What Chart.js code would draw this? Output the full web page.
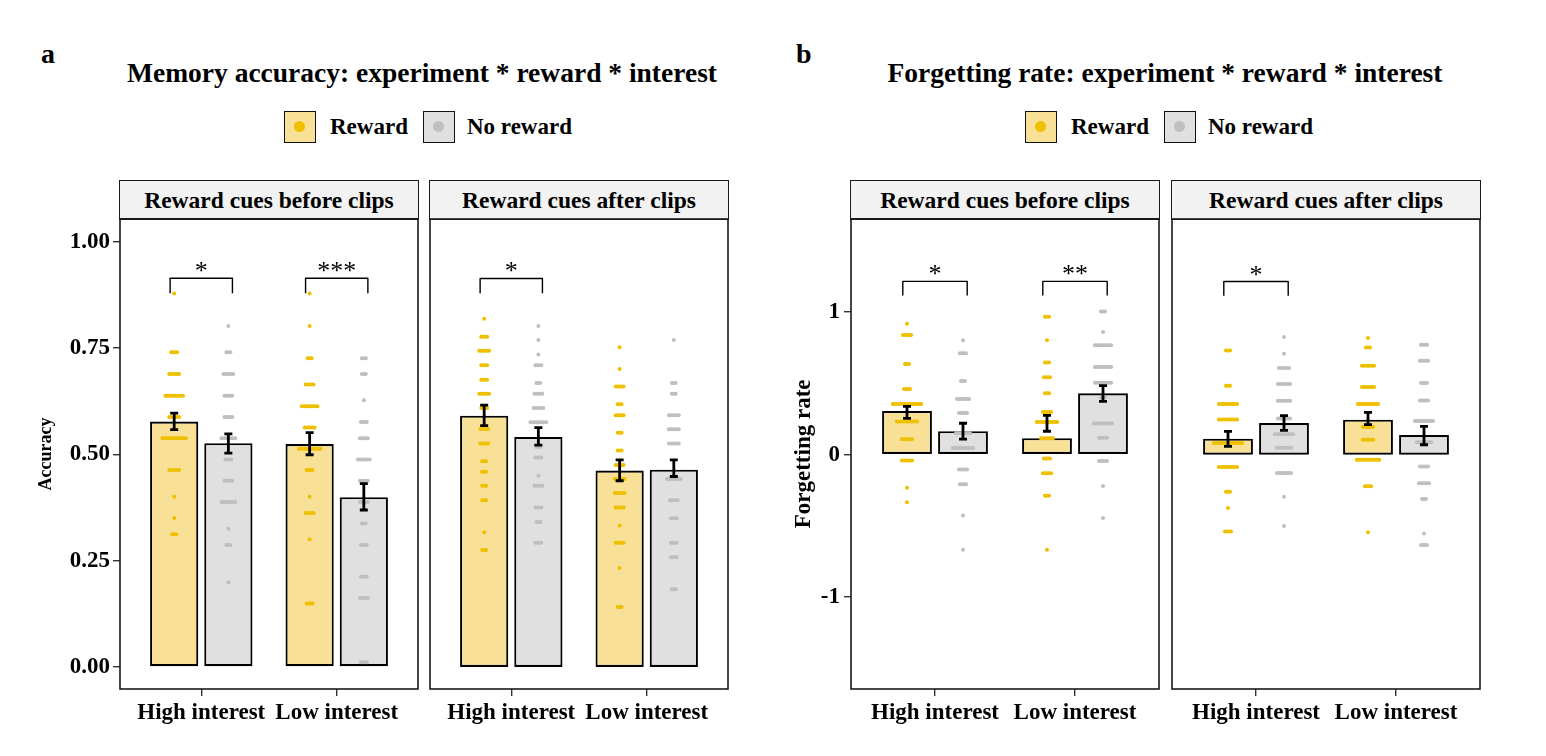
<!DOCTYPE html>
<html>
<head>
<meta charset="utf-8">
<script src="https://cdn.jsdelivr.net/npm/chart.js@4.4.1/dist/chart.umd.min.js"></script>
<style>
  body { margin: 0; width: 1546px; height: 756px; position: relative; overflow: hidden; background: #fff;
         font-family: 'Liberation Serif', 'Times New Roman', serif; font-weight: bold; color: #000; }
  .abs { position: absolute; white-space: nowrap; line-height: 1; }
  .strip { position: absolute; box-sizing: border-box; top: 180px; height: 40px; background: #f2f2f2;
           border: 1.5px solid #1a1a1a; font-size: 23.5px; display: flex; align-items: center; justify-content: center; }
  .key { position: absolute; box-sizing: border-box; width: 32px; height: 32px; top: 111px; border: 1.5px solid #111; }
  .key span { position: absolute; left: 9px; top: 9px; width: 11px; height: 11px; border-radius: 50%; }
  canvas { position: absolute; }
</style>
</head>
<body>
<script>
const FONT = "'Liberation Serif', 'Times New Roman', serif";
Chart.defaults.font.family = FONT;

const categories = ['High interest', 'Low interest'];
const rewardNames = ['Reward', 'No reward'];
const facetNames = ['Reward cues before clips', 'Reward cues after clips'];

const accTicks = [0, 0.25, 0.5, 0.75, 1];
const forgetTicks = [-1, 0, 1];

// Memory accuracy - bar means [High interest, Low interest]
const accBeforeReward = [0.577, 0.524];
const accBeforeNoReward = [0.526, 0.399];
const accAfterReward = [0.591, 0.462];
const accAfterNoReward = [0.541, 0.464];
// error bars [low, high]
const accBeforeRewardErr = [[0.558, 0.597], [0.499, 0.551]];
const accBeforeNoRewardErr = [[0.503, 0.548], [0.369, 0.431]];
const accAfterRewardErr = [[0.568, 0.616], [0.438, 0.487]];
const accAfterNoRewardErr = [[0.522, 0.563], [0.448, 0.487]];
// participants: [value, count] for [High interest, Low interest]
const accBeforeRewardDots = [
  [[0.878,1],[0.740,4],[0.689,6],[0.638,10],[0.588,6],[0.538,13],[0.463,6],[0.400,1],[0.350,1],[0.312,3]],
  [[0.878,1],[0.802,1],[0.726,3],[0.664,5],[0.613,9],[0.563,6],[0.513,12],[0.463,4],[0.400,1],[0.362,5],[0.300,1],[0.149,4]]
];
const accBeforeNoRewardDots = [
  [[0.802,1],[0.740,3],[0.689,6],[0.638,5],[0.588,5],[0.538,8],[0.488,4],[0.438,5],[0.388,8],[0.325,1],[0.287,3],[0.199,1]],
  [[0.726,3],[0.689,3],[0.627,1],[0.576,4],[0.538,5],[0.488,7],[0.438,5],[0.388,5],[0.337,3],[0.287,4],[0.212,4],[0.162,5],[0.011,4]]
];
const accAfterRewardDots = [
  [[0.819,1],[0.777,4],[0.744,6],[0.710,4],[0.676,4],[0.643,6],[0.609,4],[0.560,5],[0.526,5],[0.484,3],[0.459,3],[0.426,3],[0.392,3],[0.317,1],[0.275,3]],
  [[0.752,1],[0.701,1],[0.660,5],[0.618,3],[0.592,5],[0.551,3],[0.509,3],[0.475,5],[0.442,6],[0.409,6],[0.375,5],[0.333,1],[0.292,5],[0.233,1],[0.141,3]]
];
const accAfterNoRewardDots = [
  [[0.802,1],[0.769,1],[0.735,1],[0.710,4],[0.668,3],[0.643,5],[0.609,6],[0.576,9],[0.518,3],[0.493,4],[0.450,1],[0.426,5],[0.375,4],[0.341,3],[0.292,4]],
  [[0.769,1],[0.668,3],[0.643,3],[0.592,6],[0.559,6],[0.526,6],[0.442,8],[0.392,5],[0.350,4],[0.292,4],[0.258,4],[0.183,3]]
];
const accBeforeBrackets = [{ cat: 1, label: '*' }, { cat: 2, label: '***' }];
const accAfterBrackets = [{ cat: 1, label: '*' }];

// Forgetting rate
const forgetBeforeReward = [0.306, 0.115];
const forgetBeforeNoReward = [0.164, 0.430];
const forgetAfterReward = [0.112, 0.246];
const forgetAfterNoReward = [0.222, 0.138];
const forgetBeforeRewardErr = [[0.255, 0.339], [0.164, 0.276]];
const forgetBeforeNoRewardErr = [[0.108, 0.220], [0.374, 0.484]];
const forgetAfterRewardErr = [[0.058, 0.164], [0.211, 0.297]];
const forgetAfterNoRewardErr = [[0.171, 0.274], [0.070, 0.199]];
const forgetBeforeRewardDots = [
  [[0.919,1],[0.840,5],[0.636,3],[0.461,4],[0.356,15],[0.232,11],[0.108,6],[-0.042,6],[-0.232,1],[-0.335,1]],
  [[0.968,3],[0.802,1],[0.646,3],[0.543,4],[0.430,3],[0.299,5],[0.229,11],[0.115,7],[-0.028,4],[-0.131,5],[-0.288,3],[-0.667,1]]
];
const forgetBeforeNoRewardDots = [
  [[0.802,1],[0.711,4],[0.517,3],[0.391,7],[0.292,5],[0.150,8],[0.047,11],[-0.105,5],[-0.208,4],[-0.428,1],[-0.667,1]],
  [[1.004,3],[0.861,1],[0.767,9],[0.615,9],[0.505,9],[0.400,3],[0.218,10],[0.119,5],[-0.045,5],[-0.220,1],[-0.445,1]]
];
const forgetAfterRewardDots = [
  [[0.732,3],[0.484,3],[0.356,10],[0.248,10],[0.082,15],[-0.087,10],[-0.260,3],[-0.374,1],[-0.540,4]],
  [[0.820,1],[0.753,3],[0.625,7],[0.475,7],[0.356,11],[0.194,6],[0.105,6],[-0.035,12],[-0.222,4],[-0.545,1]]
];
const forgetAfterNoRewardDots = [
  [[0.826,1],[0.709,1],[0.608,6],[0.496,7],[0.379,7],[0.255,7],[0.143,10],[0.049,8],[-0.129,8],[-0.295,1],[-0.500,1]],
  [[0.772,4],[0.660,5],[0.503,4],[0.381,5],[0.236,10],[0.087,8],[-0.082,5],[-0.201,6],[-0.311,3],[-0.554,1],[-0.634,4]]
];
const forgetBeforeBrackets = [{ cat: 1, label: '*' }, { cat: 2, label: '**' }];
const forgetAfterBrackets = [{ cat: 1, label: '*' }];

const dodge = 0.2, dotStep = 0.0145, bracketHalf = 0.23;
const fills = ['#f8e196', '#e0e0e0'];
const dotColors = ['#efc000', '#bfbfbf'];

const panels = [
  { tag: 'a', tagX: 41, title: 'Memory accuracy: experiment * reward * interest', titleX: 422, keyX: 284,
    yTitle: 'Accuracy', yTitleSize: 18, yMin: -0.052, yMax: 1.054, ticks: accTicks, fmt: v => v.toFixed(2),
    axisW: 86, tickPad: 3, bracketY: 0.914, tip: 0.035,
    facets: [
      { left: 120, width: 298, mean: [accBeforeReward, accBeforeNoReward], err: [accBeforeRewardErr, accBeforeNoRewardErr],
        dots: [accBeforeRewardDots, accBeforeNoRewardDots], brackets: accBeforeBrackets },
      { left: 430, width: 298, mean: [accAfterReward, accAfterNoReward], err: [accAfterRewardErr, accAfterNoRewardErr],
        dots: [accAfterRewardDots, accAfterNoRewardDots], brackets: accAfterBrackets }
    ] },
  { tag: 'b', tagX: 796, title: 'Forgetting rate: experiment * reward * interest', titleX: 1165, keyX: 1025,
    yTitle: 'Forgetting rate', yTitleSize: 23, yMin: -1.645, yMax: 1.655, ticks: forgetTicks, fmt: v => String(v),
    axisW: 61, tickPad: 4, bracketY: 1.216, tip: 0.1,
    facets: [
      { left: 851, width: 308, mean: [forgetBeforeReward, forgetBeforeNoReward], err: [forgetBeforeRewardErr, forgetBeforeNoRewardErr],
        dots: [forgetBeforeRewardDots, forgetBeforeNoRewardDots], brackets: forgetBeforeBrackets },
      { left: 1172, width: 308, mean: [forgetAfterReward, forgetAfterNoReward], err: [forgetAfterRewardErr, forgetAfterNoRewardErr],
        dots: [forgetAfterRewardDots, forgetAfterNoRewardDots], brackets: forgetAfterBrackets }
    ] }
];

const PLOT_TOP = 219, PLOT_H = 470, XAXIS_H = 48;

function addText(txt, x, baseline, size, center) {
  const d = document.createElement('div');
  d.className = 'abs';
  d.textContent = txt;
  d.style.fontSize = size + 'px';
  d.style.top = (baseline - 0.8375 * size) + 'px';
  d.style.left = x + 'px';
  if (center) d.style.transform = 'translateX(-50%)';
  document.body.appendChild(d);
}

function dotPoints(groups, off) {
  return groups.flatMap((list, i) => list.flatMap(([v, n]) =>
    Array.from({ length: n }, (_, k) => ({ x: i + 1 + off + (k - (n - 1) / 2) * dotStep, y: v }))));
}

function decor(p, f) {
  return {
    id: 'decor',
    afterDatasetsDraw(chart) {
      const { ctx, scales: { x, y } } = chart;
      ctx.save();
      ctx.strokeStyle = '#000';
      f.err.forEach((errs, r) => errs.forEach(([lo, hi], i) => {
        const px = x.getPixelForValue(i + 1 + (r ? dodge : -dodge));
        const y0 = y.getPixelForValue(lo), y1 = y.getPixelForValue(hi);
        ctx.lineWidth = 2.8;
        ctx.beginPath();
        ctx.moveTo(px, y0); ctx.lineTo(px, y1);
        ctx.moveTo(px - 4, y0); ctx.lineTo(px + 4, y0);
        ctx.moveTo(px - 4, y1); ctx.lineTo(px + 4, y1);
        ctx.stroke();
      }));
      f.brackets.forEach(b => {
        const xl = x.getPixelForValue(b.cat - bracketHalf), xr = x.getPixelForValue(b.cat + bracketHalf);
        const yt = y.getPixelForValue(p.bracketY), yb = y.getPixelForValue(p.bracketY - p.tip);
        ctx.lineWidth = 1.4;
        ctx.lineJoin = 'round';
        ctx.beginPath();
        ctx.moveTo(xl, yb); ctx.lineTo(xl, yt); ctx.lineTo(xr, yt); ctx.lineTo(xr, yb);
        ctx.stroke();
        ctx.fillStyle = '#000';
        ctx.font = '26px ' + FONT;
        ctx.textAlign = 'center';
        ctx.textBaseline = 'alphabetic';
        ctx.fillText(b.label, (xl + xr) / 2, yt + 1);
      });
      ctx.restore();
    },
    afterDraw(chart) {
      const a = chart.chartArea, ctx = chart.ctx;
      ctx.save();
      ctx.strokeStyle = '#1a1a1a';
      ctx.lineWidth = 1.6;
      ctx.strokeRect(a.left, a.top, a.right - a.left, a.bottom - a.top);
      ctx.restore();
    }
  };
}

panels.forEach(p => {
  const tag = document.createElement('div');
  tag.className = 'abs'; tag.textContent = p.tag; tag.style.fontSize = '28px';
  tag.style.left = p.tagX + 'px'; tag.style.top = (63.5 - 0.8375 * 28) + 'px';
  document.body.appendChild(tag);
  addText(p.title, p.titleX, 82, 27.5, true);

  // legend
  const keyOffsets = [0, 139];
  const textOffsets = [46, 183];
  rewardNames.forEach((name, r) => {
    const k = document.createElement('div');
    k.className = 'key';
    k.style.left = (p.keyX + keyOffsets[r]) + 'px';
    k.style.background = fills[r];
    const s = document.createElement('span');
    s.style.background = dotColors[r];
    k.appendChild(s);
    document.body.appendChild(k);
    addText(name, p.keyX + textOffsets[r], 134.5, 23, false);
  });

  p.facets.forEach((f, fi) => {
    const strip = document.createElement('div');
    strip.className = 'strip';
    strip.textContent = facetNames[fi];
    strip.style.left = (f.left - 0.75) + 'px';
    strip.style.width = (f.width + 1.5) + 'px';
    document.body.appendChild(strip);

    const hasY = fi === 0;
    const leftW = hasY ? p.axisW : 3;
    const cw = leftW + f.width + 3, ch = 5 + PLOT_H + XAXIS_H;
    const canvas = document.createElement('canvas');
    canvas.width = cw; canvas.height = ch;
    canvas.style.width = cw + 'px'; canvas.style.height = ch + 'px';
    canvas.style.left = (f.left - leftW) + 'px'; canvas.style.top = (PLOT_TOP - 5) + 'px';
    document.body.appendChild(canvas);

    const datasets = [];
    rewardNames.forEach((name, r) => {
      datasets.push({
        type: 'bar', label: name, order: 3,
        data: categories.map((c, i) => ({ x: i + 1 + (r ? dodge : -dodge), y: f.mean[r][i] })),
        backgroundColor: fills[r], borderColor: '#000', borderWidth: 2.1, borderSkipped: false,
        grouped: false, barPercentage: 0.89, categoryPercentage: 1
      });
    });
    rewardNames.forEach((name, r) => {
      datasets.push({
        type: 'scatter', label: name + ' participants', order: 1,
        data: dotPoints(f.dots[r], r ? dodge : -dodge),
        pointRadius: 2, pointBorderWidth: 0, pointBackgroundColor: dotColors[r]
      });
    });

    const tickFont = { family: FONT, size: 23, weight: 'bold' };
    const yScale = {
      type: 'linear', min: p.yMin, max: p.yMax, display: hasY,
      afterBuildTicks: s => { s.ticks = p.ticks.map(v => ({ value: v })); },
      ticks: { callback: p.fmt, font: tickFont, color: '#000', padding: p.tickPad },
      grid: { drawOnChartArea: false, tickLength: 7, color: '#333', lineWidth: 1.4 },
      border: { display: false },
      title: { display: true, text: p.yTitle, color: '#000', padding: { top: p.tag === 'a' ? 2 : 0, bottom: 0 },
               font: { family: FONT, size: p.yTitleSize, weight: 'bold' } }
    };
    if (hasY) yScale.afterFit = s => { s.width = p.axisW; };

    const chart = new Chart(canvas, {
      type: 'bar',
      data: { datasets },
      options: {
        responsive: false, maintainAspectRatio: false, animation: false, events: [],
        layout: { autoPadding: false, padding: { top: 5, left: hasY ? 0 : 3, right: 3, bottom: 0 } },
        plugins: { legend: { display: false }, tooltip: { enabled: false } },
        scales: {
          x: {
            type: 'linear', min: 0.4, max: 2.6, offset: false,
            afterBuildTicks: s => { s.ticks = [{ value: 1 }, { value: 2 }]; },
            afterFit: s => { s.height = XAXIS_H; },
            ticks: { callback: v => categories[Math.round(v) - 1], font: tickFont, color: '#000', padding: 3,
                     maxRotation: 0, autoSkip: false },
            grid: { offset: false, drawOnChartArea: false, tickLength: 7, color: '#333', lineWidth: 1.4 },
            border: { display: false }
          },
          y: yScale
        }
      },
      plugins: [decor(p, f)]
    });

    // keep the plot area exactly where the panel frame belongs
    const dy = Math.round(chart.chartArea.top - 5);
    if (dy > 0) {
      canvas.style.top = (PLOT_TOP - 5 - dy) + 'px';
      chart.resize(cw, ch + dy);
      canvas.style.top = (PLOT_TOP - chart.chartArea.top) + 'px';
    }
  });
});
</script>
</body>
</html>
